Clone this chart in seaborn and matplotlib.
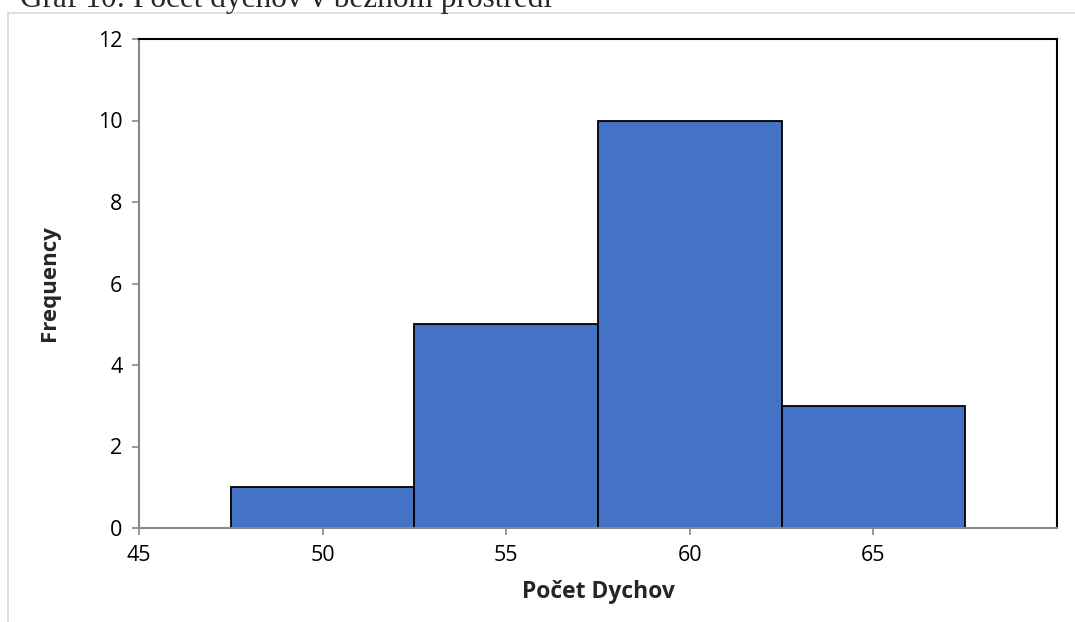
import numpy as np
import pandas as pd
import seaborn as sns
import matplotlib.pyplot as plt
from matplotlib.patches import Rectangle

# histogram data
bin_edges = [47.5, 52.5, 57.5, 62.5, 67.5]
bin_centers = [50, 55, 60, 65]
counts = [1, 5, 10, 3]
x_ticks = [45, 50, 55, 60, 65]
y_ticks = [0, 2, 4, 6, 8, 10, 12]

df = pd.DataFrame({'Počet Dychov': bin_centers, 'count': counts})

sns.set_theme(style='white')
plt.rcParams['font.family'] = ['Open Sans', 'DejaVu Sans']

fig = plt.figure(figsize=(10.75, 6.22), dpi=100)
ax = fig.add_axes([139/1075, 1 - 528/622, (1057-139)/1075, (528-39)/622])

sns.histplot(data=df, x='Počet Dychov', weights='count', bins=bin_edges,
             color='#4472C4', alpha=1, edgecolor='black', linewidth=1.3, ax=ax)

ax.set_xlim(45, 70)
ax.set_ylim(0, 12)
ax.set_xticks(x_ticks)
ax.set_yticks(y_ticks)
ax.tick_params(axis='both', labelsize=15.5, colors='#888888', length=5, width=1.2,
               labelcolor='black', direction='out', bottom=True, left=True, pad=7)
ax.set_xlabel('Počet Dychov', fontsize=16.5, fontweight='bold', labelpad=10)
ax.set_ylabel('Frequency', fontsize=16, fontweight='bold', labelpad=27)

for s in ['top', 'right']:
    ax.spines[s].set_color('black')
    ax.spines[s].set_linewidth(1.5)
for s in ['left', 'bottom']:
    ax.spines[s].set_color('#888888')
    ax.spines[s].set_linewidth(1.5)

# outer chart frame (cut by the image edges)
fig.patches.append(Rectangle((8/1075, -0.1), 1.2, 1 - 13/622 + 0.1,
                             transform=fig.transFigure, fill=False,
                             edgecolor='#d9d9d9', linewidth=1.2))

# caption above the chart, partly cut off at the top
fig.text(20/1075, 1 - 7/622, 'Graf 10: Počet dychov v bežnom prostredí',
         fontsize=22.5, family=['Liberation Serif', 'DejaVu Serif'],
         ha='left', va='baseline')

fig.savefig('out.png', dpi=100)
